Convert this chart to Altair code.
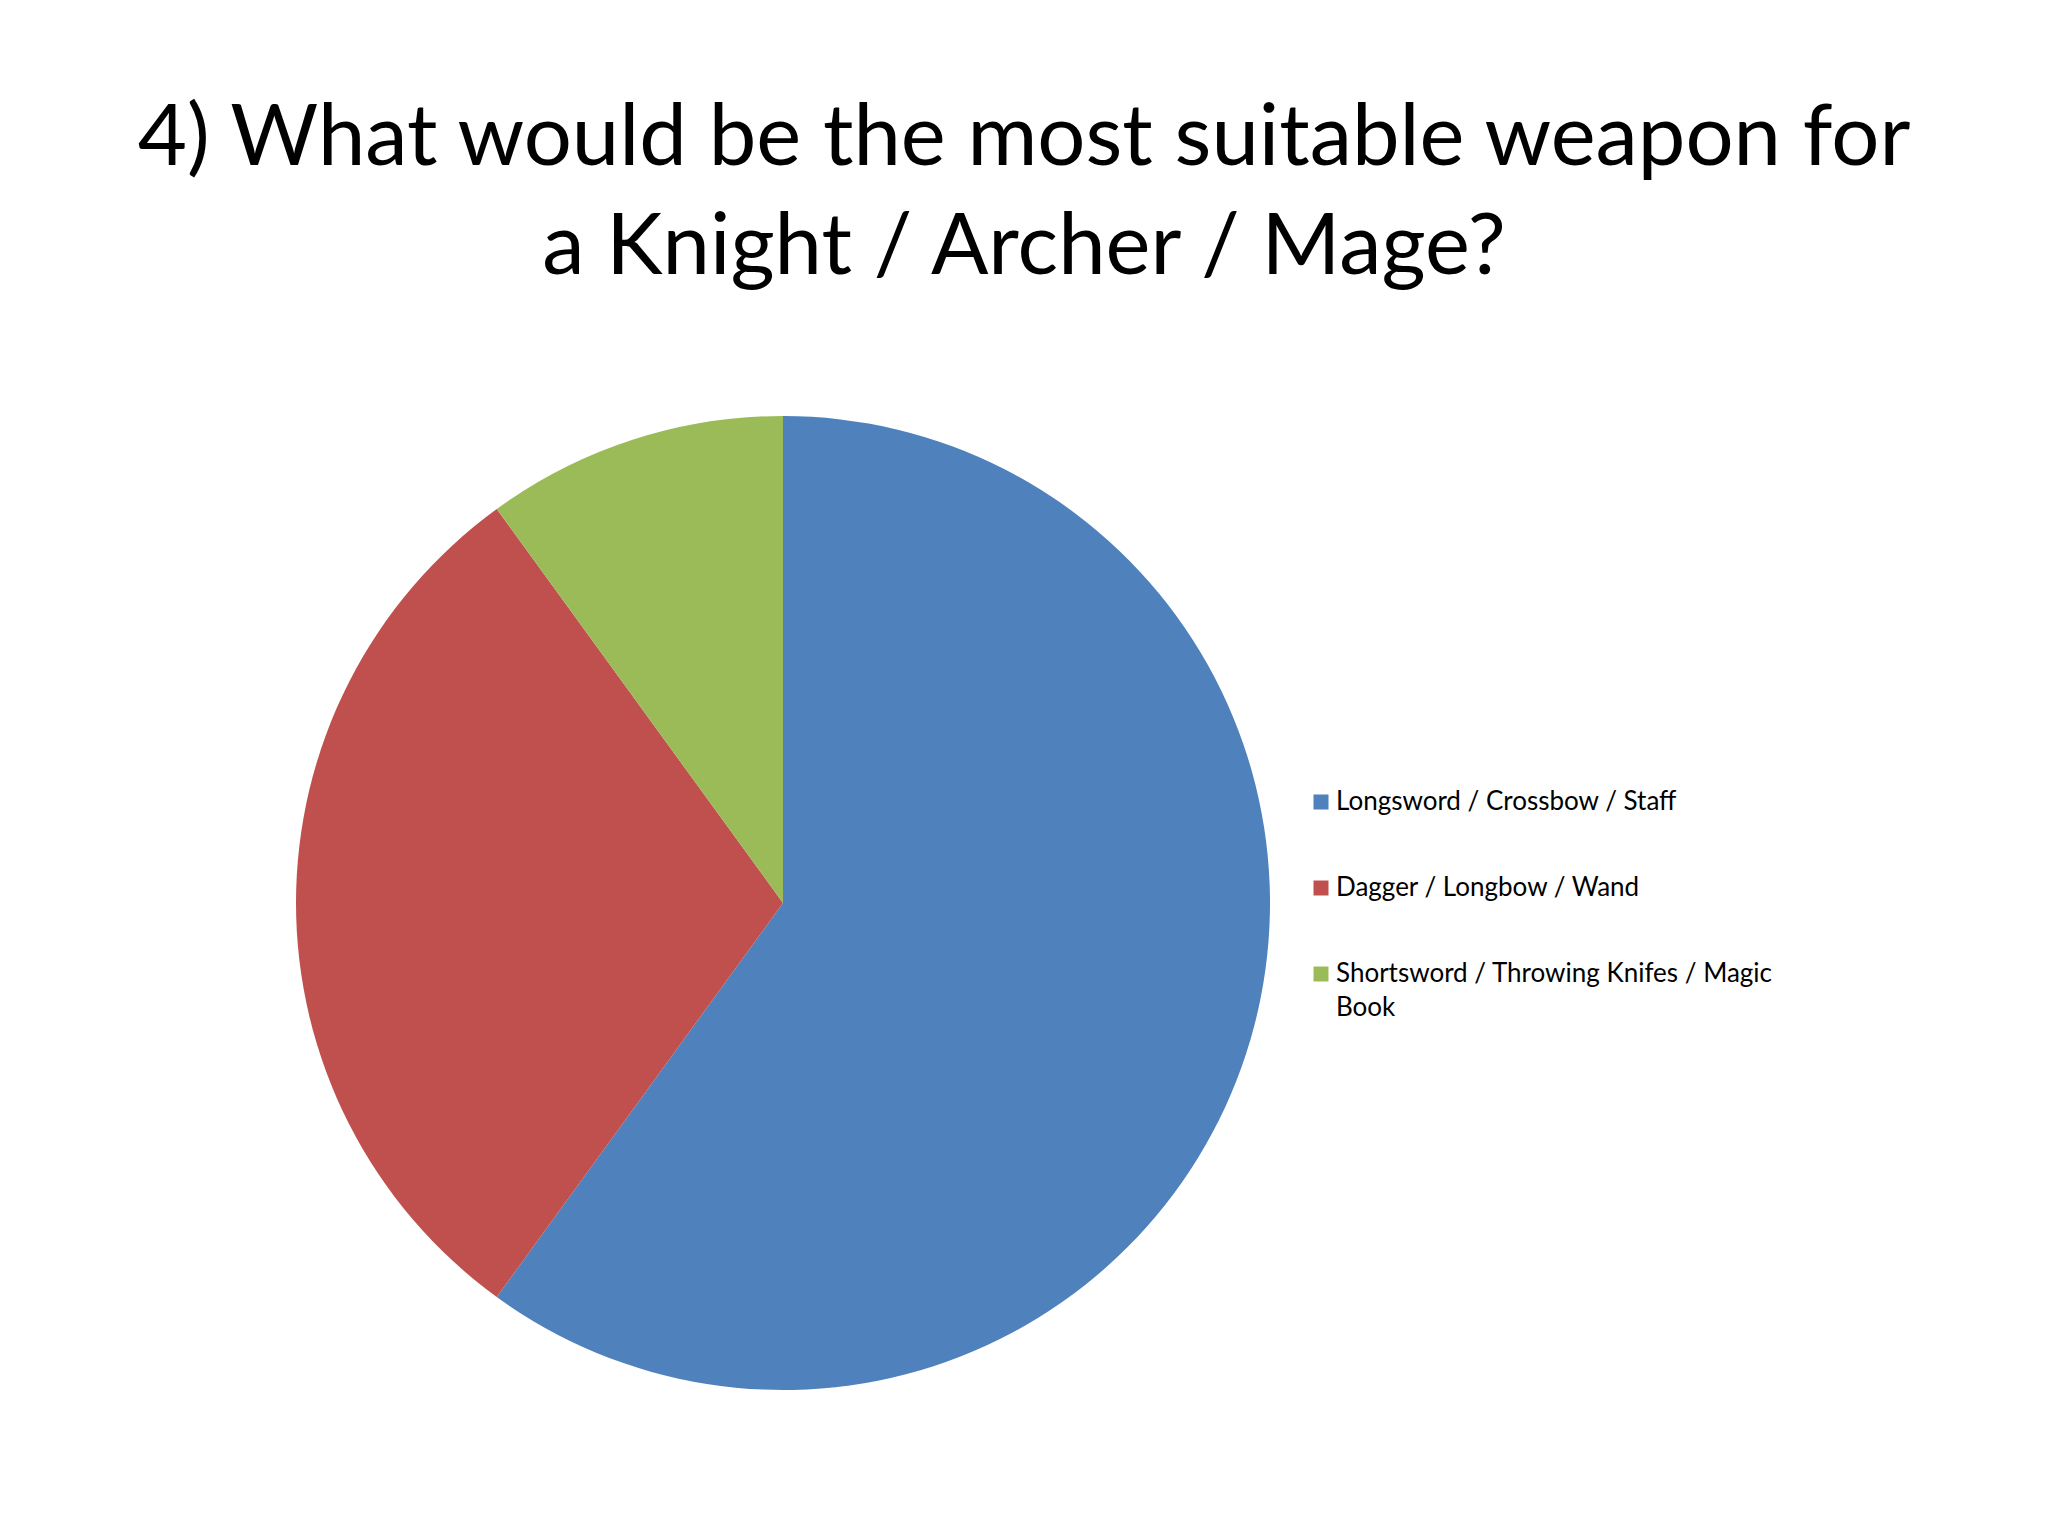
import altair as alt
import pandas as pd

categories = [
    "Longsword / Crossbow / Staff",
    "Dagger / Longbow / Wand",
    "Shortsword / Throwing Knifes / Magic Book",
]
values = [60, 30, 10]
colors = ["#4F81BD", "#C0504D", "#9BBB59"]

df = pd.DataFrame({"weapon": categories, "share": values, "idx": list(range(len(categories)))})

PLOT_TOP = 311  # approx. page y of plot origin

label_expr = (
    "datum.label == 'Shortsword / Throwing Knifes / Magic Book' "
    "? ['Shortsword / Throwing Knifes / Magic', 'Book'] : datum.label"
)

chart = (
    alt.Chart(df)
    .mark_arc(radius=487)
    .encode(
        theta=alt.Theta("share:Q", stack=True),
        order=alt.Order("idx:Q"),
        x=alt.value(775),
        y=alt.value(902 - PLOT_TOP),
        color=alt.Color(
            "weapon:N",
            scale=alt.Scale(domain=categories, range=colors),
            sort=categories,
            legend=alt.Legend(
                title=None,
                orient="none",
                legendX=1300,
                legendY=788 - PLOT_TOP,
                padding=0,
                symbolType="square",
                symbolSize=225,
                symbolStrokeWidth=0,
                symbolOpacity=1,
                labelFont="Lato",
                labelFontSize=26,
                labelColor="#000000",
                labelLimit=600,
                labelOffset=2,
                rowPadding=60,
                labelExpr=label_expr,
            ),
        ),
    )
    .properties(
        width=2032,
        height=1200,
        padding={"top": 89, "left": 0, "right": 0, "bottom": 0},
        title=alt.TitleParams(
            text=["4) What would be the most suitable weapon for", "a Knight / Archer / Mage?"],
            font="Lato",
            fontSize=85,
            fontWeight="normal",
            color="#000000",
            lineHeight=109,
            anchor="middle",
            offset=20,
        ),
    )
    .configure(background="#ffffff", style={"guide-label": {"lineHeight": 34}})
    .configure_view(strokeWidth=0, stroke="transparent")
)

chart.save("out.html", embed_options={"renderer": "svg", "actions": False})
